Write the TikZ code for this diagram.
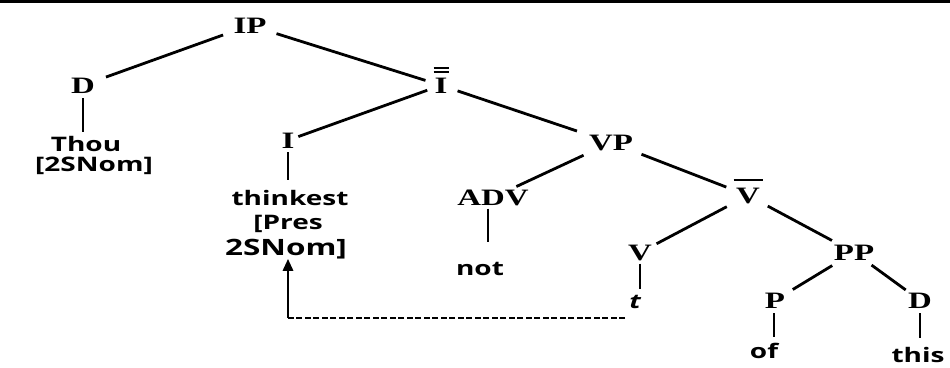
\documentclass[tikz,border=0pt]{standalone}
\usepackage{fontspec}
\usetikzlibrary{calc,arrows.meta}
\newfontfamily\catserif[FakeStretch=1.4]{Liberation Serif}
\newfontfamily\wordsans[FakeStretch=1.4]{Open Sans}
% branch between two nodes, trimmed by fixed distances from their centres
\newcommand\treeedge[4]{\draw[branch] ($(#1)!#3pt!(#2)$) -- ($(#2)!#4pt!(#1)$);}
\begin{document}
\begin{tikzpicture}[x=1pt,y=-1pt,
  cat/.style={font=\catserif\bfseries\fontsize{23.5}{26}\selectfont, inner sep=0pt, anchor=base},
  word/.style={font=\wordsans\bfseries\fontsize{20}{22}\selectfont, inner sep=0pt, anchor=base},
  feature/.style={font=\wordsans\bfseries\fontsize{22.5}{26}\selectfont, inner sep=0pt, anchor=base},
  branch/.style={line width=2.8pt},
  barline/.style={line width=2pt},
  movement/.style={line width=1.6pt, dash pattern=on 6pt off 2.5pt},
]
\fill[white] (0,0) rectangle (950,367);
\useasboundingbox (0,0) rectangle (950,367);
\fill[black] (0,0) rectangle (950,2.5);

% category labels
\node[cat] (IP)   at (250,33)  {IP};
\node[cat] (D)    at (83,93)   {D};
\node[cat] (Ibar) at (441,93)  {I};
\node[cat] (I)    at (288,148) {I};
\node[cat] (VP)   at (611,150) {VP};
\node[cat] (ADV)  at (493,205) {ADV};
\node[cat] (Vbar) at (748,203) {V};
\node[cat] (V)    at (640,260) {V};
\node[cat] (PP)   at (854,260) {PP};
\node[cat] (P)    at (775,308) {P};
\node[cat] (D2)   at (920,308) {D};

% bars over the intermediate projections
\draw[barline] ($(Ibar.north)+(-7.5,-9)$) -- ++(15,0);
\draw[barline] ($(Ibar.north)+(-7.5,-5.5)$) -- ++(15,0);
\draw[barline] ($(Vbar.north)+(-14.5,-7)$) -- ++(29,0);

% words and features
\node[word] (Thou)  at (86,151)  {Thou};
\node[word] (nom)   at (94,171)  {[2SNom]};
\node[word] (think) at (290,205) {thinkest};
\node[word] (pres)  at (288,229) {[Pres};
\node[feature] (low) at (286,255) {2SNom]};
\node[word] (not)   at (480,275) {not};
\node[word,font=\wordsans\bfseries\itshape\fontsize{20}{22}\selectfont] (t) at (635,308) {t};
\node[word] (of)    at (764,358) {of};
\node[word] (this)  at (918,362) {this};

% branches
\treeedge{IP}{D}{28.6}{24.4}
\treeedge{IP}{Ibar}{27.8}{16.3}
\treeedge{Ibar}{I}{14.6}{11}
\treeedge{Ibar}{VP}{17.5}{35.9}
\treeedge{VP}{ADV}{30.3}{25.8}
\treeedge{VP}{Vbar}{32.7}{23.3}
\treeedge{Vbar}{V}{24}{18.7}
\treeedge{Vbar}{PP}{22.4}{25}
\treeedge{PP}{P}{25.5}{20.8}
\treeedge{PP}{D2}{21.7}{17.7}

% unary branches
\draw[branch] ($(D.south)+(0,5)$) -- ($(D.south |- Thou.north)+(0,-4)$);
\draw[branch] ($(I.south)+(0,4)$) -- ($(I.south |- think.north)+(0,-10)$);
\draw[branch] ($(ADV.south)+(-5,3)$) -- ($(ADV.south |- not.north)+(-5,-20)$);
\draw[branch] ($(V.south)+(0,3)$) -- ($(V.south |- t.north)+(0,-6)$);
\draw[branch] ($(P.south)+(-1,5)$) -- ($(P.south |- of.north)+(-1,-6)$);
\draw[branch] ($(D2.south)+(0,5)$) -- ($(D2.south |- this.north)+(0,-9)$);

% head movement of the verb from V to I
\coordinate (tfoot) at ($(t.base)+(-10,10)$);
\coordinate (corner) at ($(tfoot -| low.base)+(2,0)$);
\draw[movement] (tfoot) -- (corner);
\draw[branch,-{Triangle[length=12pt,width=10pt]}] (corner) -- (corner |- low.south);
\end{tikzpicture}
\end{document}
